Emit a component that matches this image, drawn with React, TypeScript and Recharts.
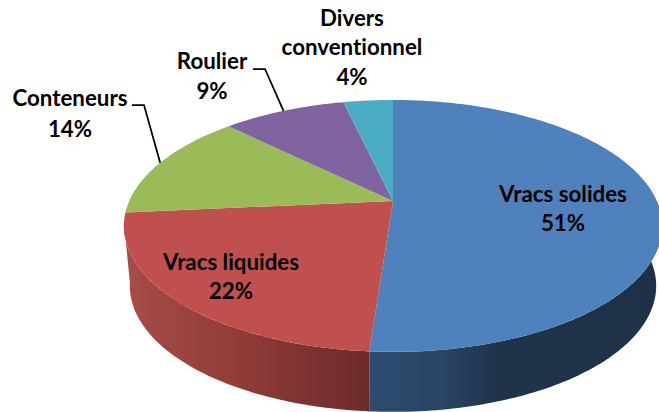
import { PieChart, Pie } from "recharts";

const categories = ["Vracs solides", "Vracs liquides", "Conteneurs", "Roulier", "Divers conventionnel"];
const shares = [51.2, 22.4, 13.9, 9.0, 3.6];
const colors = ["#4f81bd", "#c0504d", "#9bbb59", "#8064a2", "#4bacc6"];

const data = categories.map((name, i) => ({ name, value: shares[i], fill: colors[i] }));

// the tilted disc: a circle seen in perspective, pie centre sits above the ellipse centre
const SQUASH = 2.18;
const PERSPECTIVE = 0.198;
const DEPTH = 60;
const BASE_SHRINK = 0.978;

// side wall gradients, keyed by slice
const wallStops: Record<string, { x1: number; x2: number; stops: [number, string][] }> = {
  "Vracs solides": {
    x1: 369,
    x2: 659,
    stops: [[0, "#2c4c70"], [0.25, "#2a4565"], [0.45, "#1f3349"], [1, "#1e3149"]],
  },
  "Vracs liquides": {
    x1: 124,
    x2: 369,
    stops: [[0, "#a84c48"], [0.5, "#8e3b38"], [1, "#6c2a29"]],
  },
};

// label placement: text centre, line centres, optional leader elbow
const labelLayout: Record<string, { x: number; lines: number[]; leader?: [number, number, number] }> = {
  "Vracs solides": { x: 563, lines: [194, 223] },
  "Vracs liquides": { x: 231, lines: [262, 291] },
  Conteneurs: { x: 70, lines: [98, 129], leader: [132, 144, 105] },
  Roulier: { x: 212, lines: [61, 91], leader: [253, 265, 69] },
  "Divers conventionnel": { x: 352, lines: [18, 47, 77] },
};

const project = (cx: number, cy: number, r: number, deg: number, base = false) => {
  const t = (deg * Math.PI) / 180;
  const X = Math.cos(t);
  const Y = Math.sin(t);
  const w = 1 + PERSPECTIVE * Y;
  const a = r * SQUASH * (base ? BASE_SHRINK : 1);
  return {
    x: cx + (a * X) / w,
    y: cy - (r * Y) / w + (base ? DEPTH : 0),
  };
};

const arc = (cx: number, cy: number, r: number, from: number, to: number, base = false) => {
  const pts: string[] = [];
  const n = Math.max(2, Math.ceil(Math.abs(to - from)));
  for (let i = 0; i <= n; i++) {
    const p = project(cx, cy, r, from + ((to - from) * i) / n, base);
    pts.push(`${p.x.toFixed(2)} ${p.y.toFixed(2)}`);
  }
  return pts;
};

const Slice3D = (props: any) => {
  const { cx, cy, outerRadius, startAngle, endAngle, fill, name } = props;
  const top = arc(cx, cy, outerRadius, startAngle, endAngle);
  const face = `M${cx} ${cy}L${top.join("L")}Z`;

  const wall = wallStops[name];
  const hi = Math.min(startAngle, 0);
  const lo = Math.max(endAngle, -170);
  let side = null;
  if (wall && hi > lo) {
    const upper = arc(cx, cy, outerRadius, hi, lo);
    const lower = arc(cx, cy, outerRadius, lo, hi, true);
    const id = `wall-${colors[categories.indexOf(name)].slice(1)}`;
    side = (
      <>
        <defs>
          <linearGradient id={id} gradientUnits="userSpaceOnUse" x1={wall.x1} x2={wall.x2} y1={0} y2={0}>
            {wall.stops.map(([o, c]) => (
              <stop key={o} offset={o} stopColor={c} />
            ))}
          </linearGradient>
        </defs>
        <path d={`M${upper.join("L")}L${lower.join("L")}Z`} fill={`url(#${id})`} />
      </>
    );
  }
  return (
    <g>
      {side}
      <path d={face} fill={fill} />
    </g>
  );
};

const SliceLabel = (props: any) => {
  const { cx, cy, outerRadius, midAngle, name, percent } = props;
  const layout = labelLayout[name];
  const words = name === "Divers conventionnel" ? ["Divers", "conventionnel"] : [name];
  const rows = [...words, `${Math.round(percent * 100)}%`];
  const end = project(cx, cy, outerRadius, midAngle);
  return (
    <g>
      {layout.leader && (
        <polyline
          points={`${layout.leader[0]},${layout.leader[2]} ${layout.leader[1]},${layout.leader[2]} ${end.x},${end.y}`}
          fill="none"
          stroke="#000"
          strokeWidth={1.75}
        />
      )}
      {rows.map((row, i) => (
        <text
          key={row}
          x={layout.x}
          y={layout.lines[i] + 7.5}
          textAnchor="middle"
          fontFamily="Lato, sans-serif"
          fontWeight={700}
          fontSize={22.3}
          fill="#000"
          style={{ fontVariantLigatures: "none" }}
        >
          {row}
        </text>
      ))}
    </g>
  );
};

export default function App() {
  return (
    <div style={{ position: "fixed", left: 0, top: 0, width: 659, height: 412, background: "#fff" }}>
      <PieChart width={659} height={412} margin={{ top: 0, right: 0, bottom: 0, left: 0 }}>
        <Pie
          data={data}
          dataKey="value"
          nameKey="name"
          cx={393}
          cy={201}
          outerRadius={121}
          startAngle={90}
          endAngle={-270}
          stroke="none"
          shape={Slice3D}
          label={SliceLabel}
          labelLine={false}
          isAnimationActive={false}
          rootTabIndex={-1}
        />
      </PieChart>
    </div>
  );
}
